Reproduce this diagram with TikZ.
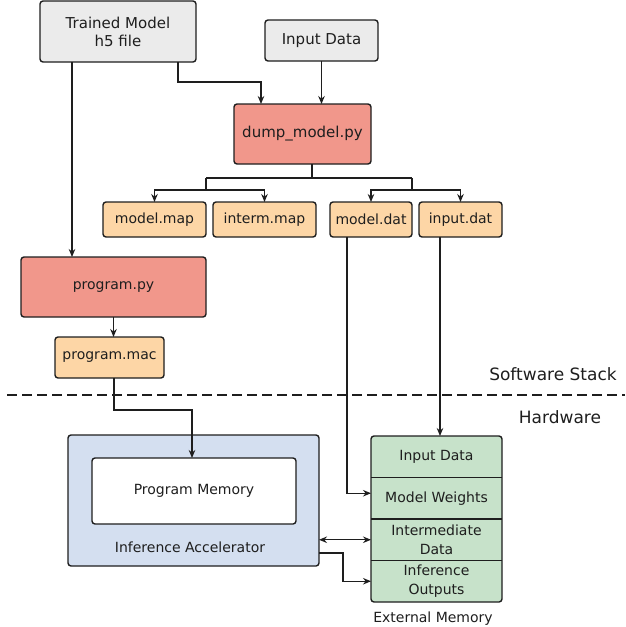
\documentclass[tikz,border=0pt]{standalone}
\usepackage{fontspec}
\setmainfont{DejaVu Sans}
\usetikzlibrary{arrows.meta,calc}
\definecolor{grayfill}{HTML}{EBEBEB}
\definecolor{salmon}{HTML}{F1978B}
\definecolor{peach}{HTML}{FDD6A6}
\definecolor{paleblue}{HTML}{D4DFF0}
\definecolor{palegreen}{HTML}{C7E2CA}
\definecolor{ink}{HTML}{1E1E1E}
\tikzset{
  blk/.style={draw=ink, line width=1.4pt, rounded corners=3pt, inner sep=0pt,
    outer sep=0pt, align=center, text=ink, font=\fontsize{14}{17}\selectfont},
  bigtext/.style={font=\fontsize{15}{18}\selectfont},
  seg/.style={inner sep=0pt, outer sep=0pt, align=center, text=ink,
    minimum width=131pt, minimum height=41.5pt, font=\fontsize{14}{19}\selectfont},
  lbl/.style={inner sep=0pt, text=ink, font=\fontsize{17}{20}\selectfont},
  sublbl/.style={inner sep=0pt, text=ink, font=\fontsize{14}{17}\selectfont},
  wire/.style={draw=ink, line width=1.4pt},
  arr/.style={wire, -{Stealth[length=8pt,width=6.5pt]}},
  arrtwo/.style={wire, {Stealth[length=8pt,width=6.5pt]}-{Stealth[length=8pt,width=6.5pt]}},
}
\begin{document}
\begin{tikzpicture}[x=1pt,y=-1pt]
\useasboundingbox (0,0) rectangle (625,627);

% software side
\node[blk, bigtext, fill=grayfill, minimum width=156pt, minimum height=61pt] (trained) at (118,31.5) {Trained Model\\h5 file};
\node[blk, bigtext, fill=grayfill, minimum width=113pt, minimum height=41pt] (input) at (321.5,40.5) {Input Data};
\node[blk, bigtext, fill=salmon, minimum width=137pt, minimum height=60pt] (dump) at (302.5,134) {dump\_model.py};
\node[blk, fill=peach, minimum width=103pt, minimum height=35pt] (mmap) at (154.5,219.5) {model.map};
\node[blk, fill=peach, minimum width=103pt, minimum height=35pt] (imap) at (264.5,219.5) {interm.map};
\node[blk, fill=peach, minimum width=82pt, minimum height=35pt] (mdat) at (371,219.5) {model.dat};
\node[blk, fill=peach, minimum width=83pt, minimum height=35pt] (idat) at (460.5,219.5) {input.dat};
\node[blk, fill=salmon, minimum width=185pt, minimum height=60pt] (progpy) at (113.5,287) {program.py};
\node[blk, fill=peach, minimum width=109pt, minimum height=41pt] (pmac) at (109.5,357.5) {program.mac};

% boundary between software and hardware
\draw[draw=ink, line width=2.6pt, dash pattern=on 10pt off 5pt] (7,395) -- (625,395);
\node[lbl] (swlbl) at (553,374) {Software Stack};
\node[lbl] (hwlbl) at (560,417) {Hardware};

% hardware side
\node[blk, fill=paleblue, minimum width=251pt, minimum height=131pt] (acc) at (193.5,500.5) {};
\node[blk, fill=white, minimum width=204pt, minimum height=66pt] (progmem) at (194,491) {Program Memory};
\node[sublbl] (acclbl) at (190,547) {Inference Accelerator};

\node[blk, fill=palegreen, minimum width=131pt, minimum height=166pt] (extmem) at (436.5,519) {};
\node[seg] (seg1) at (436.5,456.75) {Input Data};
\node[seg] (seg2) at (436.5,498.25) {Model Weights};
\node[seg] (seg3) at (436.5,539.75) {Intermediate\\Data};
\node[seg] (seg4) at (436.5,581.25) {Inference\\Outputs};
\draw[wire] (seg1.south west) -- (seg1.south east);
\draw[wire] (seg2.south west) -- (seg2.south east);
\draw[wire] (seg3.south west) -- (seg3.south east);
\node[sublbl] (extlbl) at (433,619) {External Memory};

% connectors
\coordinate (t1) at ([xshift=32pt]trained.south west);
\draw[arr] (t1) -- (t1 |- progpy.north);
\coordinate (t2) at ([xshift=-18pt]trained.south east);
\coordinate (d1) at ([xshift=27pt]dump.north west);
\draw[arr] (t2) -- ++(0,20) -| (d1);
\draw[arr] (input.south) -- (input.south |- dump.north);

\coordinate (d2) at ([xshift=9.5pt]dump.south);
\draw[wire] (d2) -- ++(0,14) coordinate (hub);
\draw[wire] (mmap.east |- hub) -- (mdat.east |- hub);
\draw[wire] (mmap.east |- hub) -- ++(0,12) coordinate (lb);
\draw[wire] (mdat.east |- hub) -- ++(0,12) coordinate (rb);
\draw[arr] (lb) -| (mmap.north);
\draw[arr] (lb) -| (imap.north);
\draw[arr] (rb) -| (mdat.north);
\draw[arr] (rb) -| (idat.north);

\draw[arr] (progpy.south) -- (progpy.south |- pmac.north);
\draw[arr] ([xshift=4.5pt]pmac.south) -- ++(0,32) -| ([xshift=-2pt]progmem.north);

\draw[arr] ([xshift=-24pt]mdat.south) |- ([yshift=5pt]seg2.west);
\coordinate (i1) at ([xshift=-20.5pt]idat.south);
\draw[arr] (i1) -- (i1 |- extmem.north);

\draw[arrtwo] (acc.east |- seg3.west) -- (seg3.west);
\coordinate (a1) at ([yshift=-52.5pt]acc.east);
\draw[arr] (a1) -- ++(24,0) |- (seg4.west);
\end{tikzpicture}
\end{document}
